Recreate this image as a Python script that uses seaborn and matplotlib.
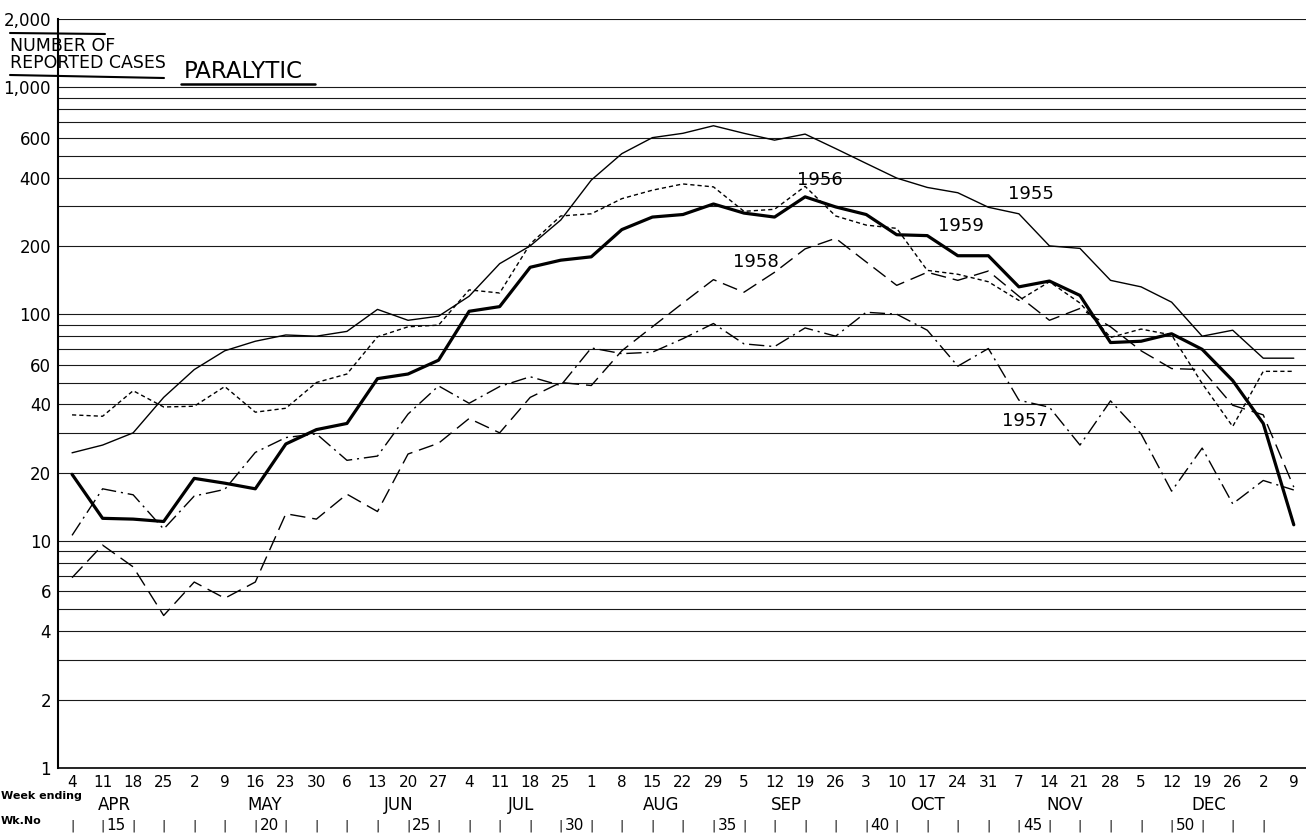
import matplotlib.pyplot as plt
import matplotlib.transforms as mtransforms
from matplotlib.lines import Line2D
import pandas as pd
import seaborn as sns

# Week ending dates (Apr 4 .. Jan 9) and week numbers
week_days = [4, 11, 18, 25, 2, 9, 16, 23, 30, 6, 13, 20, 27, 4, 11, 18, 25, 1, 8, 15, 22, 29,
             5, 12, 19, 26, 3, 10, 17, 24, 31, 7, 14, 21, 28, 5, 12, 19, 26, 2, 9]
week_nos = list(range(14, 55))
months = ['APR', 'MAY', 'JUN', 'JUL', 'AUG', 'SEP', 'OCT', 'NOV', 'DEC']
month_pos = [1.4, 6.3, 10.7, 14.7, 19.3, 23.4, 28.0, 32.5, 37.2]

# Reported paralytic cases per week
cases_1955 = [24.5, 26.5, 30, 43, 57, 69, 76, 81, 80, 84, 105, 94, 98, 120, 167, 200, 260, 390,
              510, 600, 627, 677, 627, 585, 622, 537, 462, 398, 362, 343, 296, 277, 200, 195,
              141, 132, 113, 80, 85, 64, 64]
cases_1956 = [36, 35.5, 46, 39, 39.3, 48, 37, 38.5, 50, 54.5, 79.5, 88, 89.5, 128, 124, 204, 271,
              277, 323, 352, 375, 364, 284, 290, 366, 271, 247, 239, 156, 150, 139, 115, 139,
              112, 79, 86, 81, 49.5, 32, 56, 56]
cases_1957 = [10.6, 17, 16, 11.3, 15.8, 16.9, 24.6, 28.6, 29.7, 22.7, 23.7, 36.3, 48.3, 40.5, 48,
              53, 48.5, 71, 67, 68, 78, 91, 74, 72, 87, 80, 102, 100, 85, 59, 70.6, 41.8, 38.9,
              26.5, 41.5, 29.7, 16.6, 25.7, 14.6, 18.5, 16.8]
cases_1958 = [6.9, 9.6, 7.7, 4.7, 6.6, 5.6, 6.6, 13.2, 12.5, 16.1, 13.5, 24.2, 27, 34.7, 30, 43,
              50, 48.5, 69, 88, 112, 142, 125, 153, 194, 216, 170, 134, 153, 141, 155, 120, 94,
              106, 88, 69, 57.6, 57, 39.7, 36, 17.3]
cases_1959 = [19.7, 12.6, 12.5, 12.2, 18.9, 18, 17, 26.8, 31, 33, 52, 54.5, 62.7, 103, 108, 161,
              173, 179, 236, 268, 275, 306, 279, 268, 329, 297, 275, 224, 222, 181, 181, 132,
              140, 121, 75, 76, 82, 70, 51, 33, 11.8]

# gridlines and labelled values on the log axis
grid_vals = list(range(1, 11)) + list(range(20, 101, 10)) + list(range(200, 1001, 100)) + [2000]
labelled = {1: '1', 2: '2', 4: '4', 6: '6', 10: '10', 20: '20', 40: '40', 60: '60', 100: '100',
            200: '200', 400: '400', 600: '600', 1000: '1,000', 2000: '2,000'}

sns.set_style('white')
plt.rcParams['font.family'] = ['DejaVu Sans']
plt.rcParams['text.color'] = 'black'
plt.rcParams['xtick.color'] = 'black'
plt.rcParams['ytick.color'] = 'black'
plt.rcParams['axes.labelcolor'] = 'black'

df = pd.DataFrame({'week': range(len(week_days)),
                   '1955': cases_1955, '1956': cases_1956, '1957': cases_1957,
                   '1958': cases_1958, '1959': cases_1959})

fig = plt.figure(figsize=(13.06, 8.4), dpi=100)
ax = fig.add_axes([58 / 1306, 1 - 768 / 840, 1 - 58 / 1306, (768 - 19) / 840])

styles = {
    '1955': dict(lw=1.0, linestyle='-'),
    '1956': dict(lw=1.0, linestyle=(0, (3, 2.2))),
    '1957': dict(lw=1.0, linestyle=(0, (11, 3.5, 1.5, 3.5))),
    '1958': dict(lw=1.0, linestyle=(0, (11, 5))),
    '1959': dict(lw=2.3, linestyle='-'),
}
for yr, st in styles.items():
    sns.lineplot(data=df, x='week', y=yr, ax=ax, color='black', legend=False, **st)

ax.set_yscale('log')
ax.set_ylim(1, 2000)
ax.set_xlim(-0.46, 40.4)
ax.set_yticks(grid_vals)
ax.set_yticklabels([labelled.get(v, '') for v in grid_vals], fontsize=12)
ax.yaxis.set_minor_locator(plt.NullLocator())
ax.grid(axis='y', color='#1a1a1a', lw=0.8)
ax.grid(axis='x', visible=False)
ax.tick_params(axis='y', length=4, width=1, color='black', pad=1)

ax.set_xticks(range(len(week_days)))
ax.set_xticklabels([str(d) for d in week_days], fontsize=11)
ax.set_xticks([i + 0.5 for i in range(len(week_days) - 1)], minor=True)
ax.tick_params(axis='x', which='major', length=0, pad=5)
ax.tick_params(axis='x', which='minor', length=6, width=1.2, color='black', direction='out')
ax.set_xlabel('')
ax.set_ylabel('')

for s in ['top', 'right']:
    ax.spines[s].set_visible(False)
ax.spines['left'].set_linewidth(1.5)
ax.spines['bottom'].set_linewidth(1.2)
ax.spines['left'].set_color('black')
ax.spines['bottom'].set_color('black')

# series labels
ax.text(24.5, 389, '1956', fontsize=13, ha='center', va='center')
ax.text(31.4, 338, '1955', fontsize=13, ha='center', va='center')
ax.text(29.1, 244, '1959', fontsize=13, ha='center', va='center')
ax.text(22.4, 169, '1958', fontsize=13, ha='center', va='center')
ax.text(31.2, 33.8, '1957', fontsize=13, ha='center', va='center')

# month row and week number row
trans = mtransforms.blended_transform_factory(ax.transData, fig.transFigure)
for m, p in zip(months, month_pos):
    ax.text(p, 1 - 805 / 840, m, transform=trans, fontsize=12, ha='center', va='center')
for i, n in enumerate(week_nos[:-1]):
    ax.text(i, 1 - 826 / 840, '|', transform=trans, fontsize=9, ha='center', va='center')
    if n % 5 == 0:
        ax.text(i + 0.45, 1 - 826 / 840, str(n), transform=trans, fontsize=11, ha='center', va='center')

fig.text(1 / 1306, 1 - 796 / 840, 'Week ending', fontsize=8, fontweight='bold', ha='left', va='center')
fig.text(1 / 1306, 1 - 821 / 840, 'Wk.No', fontsize=8, fontweight='bold', ha='left', va='center')

# axis title block
fig.text(10 / 1306, 1 - 46 / 840, 'NUMBER OF', fontsize=12.5, ha='left', va='center')
fig.text(10 / 1306, 1 - 63 / 840, 'REPORTED CASES', fontsize=12.5, ha='left', va='center')
fig.add_artist(Line2D([10 / 1306, 105 / 1306], [1 - 33 / 840, 1 - 34 / 840], color='black', lw=1.5))
fig.add_artist(Line2D([10 / 1306, 164 / 1306], [1 - 75 / 840, 1 - 78 / 840], color='black', lw=1.5))
fig.text(184 / 1306, 1 - 71 / 840, 'PARALYTIC', fontsize=16.5, ha='left', va='center')
fig.add_artist(Line2D([181 / 1306, 315 / 1306], [1 - 84 / 840, 1 - 84 / 840], color='black', lw=1.8))

fig.savefig('out.png', dpi=100)
